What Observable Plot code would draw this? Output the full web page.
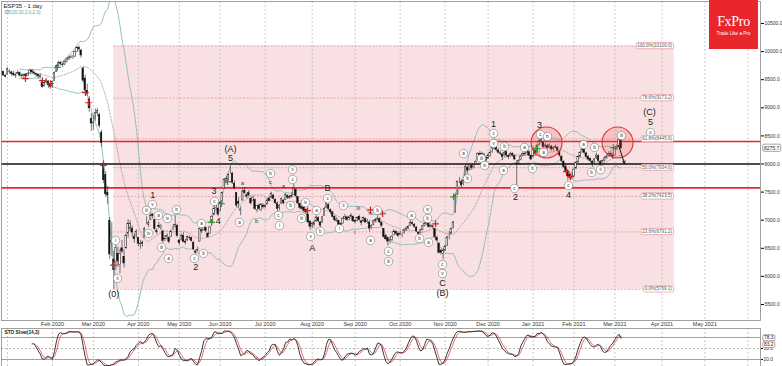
<!DOCTYPE html>
<html><head><meta charset="utf-8">
<script src="https://cdn.jsdelivr.net/npm/d3@7"></script>
<script src="https://cdn.jsdelivr.net/npm/@observablehq/plot@0.6"></script>
<style>
body{margin:0;background:#fff;}
#wrap{position:relative;width:782px;height:366px;overflow:hidden;font-family:"Liberation Sans",Arial,sans-serif;background:#fff;}
#main{position:absolute;left:0;top:0;}
#osc{position:absolute;left:0;top:328px;}
#logo{position:absolute;left:709px;top:0;width:49px;height:49px;background:#e8262c;color:#fff;text-align:center;}
#logo .b{font-family:"Liberation Serif","DejaVu Serif",serif;font-size:14px;position:absolute;left:0;right:0;top:14px;letter-spacing:-0.3px;}
#logo .s{font-size:4.6px;position:absolute;left:0;right:0;top:31px;}
</style></head><body>
<div id="wrap"><div id="main"></div><div id="osc"></div><div id="logo"><div class="b">FxPro</div><div class="s">Trade Like a Pro</div></div></div>
<script>
// ---------- calendar (trading days) ----------
const firstDay = "2019-12-27", lastDay = "2021-06-30";
const holidays = ["2020-01-01","2020-04-10","2020-04-13","2020-05-01","2020-12-25","2021-01-01","2021-04-02"];
const days = [];
for (let t = Date.parse(firstDay + "T00:00:00Z"); t <= Date.parse(lastDay + "T00:00:00Z"); t += 864e5) {
  const d = new Date(t), w = d.getUTCDay(), s = d.toISOString().slice(0, 10);
  if (w === 0 || w === 6 || holidays.includes(s)) continue;
  days.push(d);
}
const posOf = s => days.findIndex(d => d.toISOString().slice(0, 10) === s);
const BAR0 = posOf("2020-01-02");

// ---------- daily OHLC, ESP35 (Dec 27 2019 .. Mar 4 2021) ----------
const opens = [
9620,9640,9570,
9590,9640,9630,9610,9570,9600,9620,9570,9560,9590,9570,9610,9660,9630,9600,9590,9560,9450,9380,9450,9470,9420,
9380,9480,9640,9750,9800,9770,9770,9820,9860,9890,9900,9910,9990,10060,10020,9700,9520,9300,9150,8800,
8720,8800,8900,8870,8560,8000,7800,7480,6990,6600,6300,6250,6400,6200,6500,6350,6500,6760,6850,6850,6700,6720,
6680,6570,6600,6680,6950,6920,7000,7100,7000,6810,6900,6860,6800,6660,6700,6680,6700,6840,6880,6900,
6640,6650,6720,6620,6640,6690,6680,6600,6440,6450,6620,6820,6830,6860,6760,6760,6950,7100,7220,7200,
7160,7320,7560,7700,7720,7860,7830,7650,7480,7330,7160,7350,7520,7440,7480,7380,7350,7360,7180,7260,7180,7260,
7250,7280,7380,7400,7440,7360,7290,7210,7290,7350,7360,7430,7410,7430,7450,7540,7410,7290,7230,7220,7180,7100,6970,
6900,6920,6980,7040,6960,6950,7080,7220,7270,7180,7140,7060,6990,6990,6930,6940,7030,7050,7000,7060,7060,
6990,6990,7060,6980,6980,7020,6970,6960,6860,6920,6980,7010,7020,6950,6840,6720,6680,6630,6650,6740,6790,6760,
6740,6740,6770,6830,6850,6900,6950,6920,6870,6780,6770,6830,6900,6930,6940,6880,6890,6840,6690,6580,6450,6400,
6460,6540,6720,6760,6860,7150,7450,7700,7680,7640,7780,7930,7900,7960,7940,8000,8080,8180,8170,8160,8110,
8100,8140,8210,8270,8300,8240,8190,8170,8140,8210,8140,8140,8180,8140,8000,8020,8080,8150,8180,8200,8210,8140,
8130,8230,8200,8340,8400,8380,8310,8320,8290,8310,8260,8290,8290,8220,8130,8040,7950,7870,7800,7770,
7780,7920,8030,8130,8210,8250,8190,8120,8090,8040,8020,8100,8140,8040,8000,8060,8110,8140,8180,8150,
8150,8270,8320,8420];
const highs = [
9665,9650,9590,
9710,9680,9650,9650,9620,9660,9640,9600,9600,9610,9630,9690,9680,9650,9620,9600,9610,9460,9470,9530,9480,9460,
9480,9640,9760,9830,9820,9800,9840,9880,9910,9940,9930,10010,10090,10100,10040,9720,9580,9420,9200,8900,
8860,8980,8990,8900,8600,8060,7860,7600,7050,6960,6450,6560,6520,6480,6640,6480,6760,7010,6990,6900,6760,6830,
6700,6640,6630,6870,7060,6990,7130,7120,7010,6850,6960,6920,6820,6720,6760,6700,6820,6920,7080,6930,
6650,6760,6780,6660,6720,6720,6700,6620,6470,6520,6860,6850,6910,6880,6780,6890,7090,7250,7300,7220,
7330,7500,7740,7780,7830,7960,7850,7700,7490,7400,7240,7560,7580,7480,7530,7400,7430,7380,7260,7290,7290,7290,
7280,7390,7420,7500,7460,7380,7320,7280,7400,7370,7470,7450,7440,7480,7640,7560,7420,7300,7260,7240,7200,7110,6990,
6950,6990,7080,7060,6980,7070,7230,7350,7290,7200,7160,7080,7050,7000,6950,7040,7100,7070,7070,7120,7080,
7010,7060,7090,7000,7060,7040,7010,6980,6920,7000,7030,7080,7040,6970,6850,6740,6700,6690,6730,6830,6810,6790,
6800,6770,6840,6880,6900,7000,6980,6940,6890,6790,6840,6910,6960,6990,6960,6930,6910,6850,6720,6600,6480,6500,
6560,6720,6800,6860,6980,7480,7700,7760,7720,7720,7990,7960,8010,7990,8000,8070,8200,8220,8210,8190,8130,
8180,8230,8310,8400,8320,8270,8230,8190,8250,8230,8170,8210,8200,8160,8060,8080,8160,8210,8220,8280,8240,8160,
8290,8250,8350,8470,8460,8400,8370,8350,8360,8330,8310,8340,8310,8240,8150,8060,7990,7900,7840,7850,
7920,8040,8140,8220,8330,8270,8210,8150,8110,8060,8100,8190,8160,8060,8070,8130,8160,8220,8230,8200,
8290,8340,8510,8440];
const lows = [
9605,9560,9530,
9580,9600,9560,9560,9520,9590,9550,9520,9500,9540,9560,9600,9600,9580,9540,9520,9520,9340,9370,9430,9340,9330,
9350,9470,9630,9720,9740,9720,9750,9800,9840,9870,9860,9900,9980,10000,9880,9440,9280,9200,8920,8580,
8600,8760,8840,8640,8300,7650,7400,7280,6300,6350,5770,6100,6160,6050,6400,6150,6480,6680,6790,6700,6590,6680,
6530,6480,6520,6670,6920,6870,6990,7020,6820,6740,6850,6820,6590,6620,6650,6580,6690,6810,6860,6690,
6550,6630,6600,6560,6620,6640,6610,6460,6400,6430,6610,6760,6810,6780,6680,6750,6930,7080,7180,7060,
7140,7300,7550,7650,7700,7820,7640,7540,7220,7200,7080,7340,7450,7380,7410,7270,7330,7180,7130,7170,7150,7200,
7200,7270,7320,7380,7360,7280,7150,7170,7280,7270,7350,7370,7370,7390,7440,7400,7270,7190,7170,7130,7100,6940,6820,
6850,6890,6960,6950,6870,6940,7070,7200,7170,7100,7040,6970,6960,6900,6860,6930,7010,6980,6990,7040,6960,
6930,6970,6980,6900,6960,6940,6930,6790,6830,6900,6950,6990,6940,6880,6680,6640,6540,6580,6620,6720,6730,6690,
6720,6690,6750,6800,6830,6890,6900,6860,6780,6710,6750,6810,6880,6900,6860,6860,6840,6680,6600,6400,6380,6300,
6440,6530,6650,6740,6840,7120,7440,7650,7580,7610,7770,7820,7880,7890,7910,7980,8060,8130,8140,8080,8020,
8080,8120,8190,8250,8220,8180,8150,8060,8120,8120,8080,8120,8120,8060,7600,7980,8060,8130,8140,8180,8130,8060,
8110,8140,8180,8330,8370,8270,8280,8250,8270,8230,8230,8270,8210,8120,8020,7920,7840,7700,7720,7730,
7760,7900,8010,8110,8190,8170,8100,8050,8020,7940,8000,8080,8030,7940,7980,8040,8080,8120,8130,8080,
8140,8240,8310,8260];
const closes = [
9645,9574,9549,
9691,9646,9600,9580,9586,9615,9573,9562,9583,9570,9605,9658,9630,9610,9590,9560,9550,9366,9439,9489,9400,9367,
9460,9620,9740,9800,9780,9760,9820,9860,9890,9910,9900,9990,10060,10040,9930,9480,9310,9250,8990,8720,
8740,8910,8940,8680,8370,7710,7460,7440,6390,6630,6110,6500,6270,6400,6440,6230,6720,6940,6930,6780,6660,6790,
6580,6580,6580,6840,6950,6950,7070,7070,6840,6790,6880,6890,6630,6670,6720,6610,6800,6850,6920,6720,
6590,6720,6610,6600,6700,6680,6630,6480,6420,6470,6840,6800,6880,6810,6700,6870,7060,7200,7280,7100,
7310,7480,7720,7730,7800,7860,7660,7570,7260,7290,7190,7510,7480,7420,7440,7300,7390,7200,7250,7200,7280,7230,
7240,7350,7340,7470,7380,7300,7200,7250,7380,7300,7450,7400,7400,7420,7560,7430,7300,7220,7200,7160,7140,6960,6880,
6930,6960,7050,6980,6900,7050,7200,7300,7200,7140,7060,7000,7010,6920,6900,7020,7060,7000,7050,7080,6980,
6970,7040,7000,6950,7040,6960,6980,6850,6900,6980,7000,7030,6960,6900,6700,6660,6620,6640,6700,6800,6760,6720,
6760,6740,6820,6850,6880,6950,6930,6880,6800,6750,6820,6890,6930,6950,6880,6900,6880,6700,6640,6420,6420,6450,
6520,6690,6720,6840,6960,7430,7680,7700,7620,7700,7950,7880,7980,7930,7980,8040,8180,8160,8180,8100,8060,
8150,8200,8280,8320,8250,8200,8180,8120,8200,8150,8120,8180,8150,8080,7990,8050,8130,8180,8170,8230,8150,8080,
8250,8180,8320,8400,8420,8300,8330,8280,8330,8260,8280,8300,8240,8150,8050,7950,7880,7780,7760,7760,
7900,8020,8120,8200,8260,8200,8120,8080,8050,8000,8080,8150,8050,7990,8050,8100,8130,8180,8160,8130,
8260,8300,8430,8275.7];

// ---------- levels & annotations ----------
const priceTicks = [5500,6000,6500,7000,7500,8000,8500,9000,9500,10000,10500];
const redLevels = [8400, 7575];
const blackLevels = [8000];
const fibPct = ["100.0%","78.6%","61.8%","50.0%","38.2%","23.6%","0.0%"];
const fibValues = [10100.0, 9173.2, 8445.6, 7934.6, 7423.5, 6791.2, 5769.1];
const fibStart = "2020-03-16", fibEnd = "2021-04-12";
// bar numbers counted from Jan 2 2020 = 0
const bigLabels = [["(0)",52,5690],["1",71,7440],["2",92,6160],["3",101,7510],["4",103,6980],["5",109,8100],["(A)",109,8265],
 ["A",149,6510],["B",156.5,7565],["C",212.7,5875],["(B)",212.7,5695],["1",237.7,8705],["2",248.4,7405],["3",260.1,8685],
 ["4",274.3,7455],["(C)",313.9,8915],["5",314.4,8740]];
const circledLabels = [["i",52.8,6640],["ii",53.8,5965],["iii",68,7175],["iv",69,6765],["v",70.9,7280],["a",73.8,7085],
 ["iv",78.2,7030],["iii",75.3,6515],["a",78.7,6320],["b",82.6,7190],["c",91.4,6320],["b",95.8,6410],["a",94.9,6940],
 ["c",101.2,7335],["a",113.4,6960],["b",128.6,7830],["c",132.5,7085],["i",133,6905],["ii",139.4,7900],["c",139.4,7725],
 ["b",138.4,7260],["iv",145.7,7315],["iii",143.8,7030],["v",148.2,6710],["a",151.1,7175],["b",153,6800],["c",156.5,7385],
 ["i",162.3,6850],["ii",164.3,7260],["b",180.9,7175],["a",177.5,6640],["c",186.3,6445],["iii",186.3,6265],["a",197.6,7085],
 ["b",201.5,6675],["iv",205.4,7190],["b",205.4,7030],["a",205.9,6605],["c",212.7,6210],["v",212.7,6050],["a",223,8185],
 ["b",224.9,7740],["iii",231.8,8100],["iv",233.3,7975],["c",237.7,8545],["v",237.7,8365],["b",243,8310],["a",242.5,7885],
 ["c",247.9,7565],["a",252.8,8295],["b",256.7,7920],["c",260.6,8525],["b",264,8490],["a",262.1,8205],["c",274.3,7615],
 ["a",281.7,8345],["b",287,8295],["b",285.6,7850],["ii",290,7900],["iii",300.2,8505],["c",314.4,8560]];
const plainLabels = [["a",114.9,7655],["b",121.8,6975],["c",128.6,7670],["a",135,7600],["iii",171.6,7210],["iv",177.5,7120],["i",169.7,6780]];
const sellSignals = [[8.8,9520],[17.1,9485],[21,9430],[38.1,9270],[39.6,9090],[46.9,7975],[51.8,6200],[146.7,7170],[177.5,7185],[183.4,7115],[209.3,6935],[273.3,7865],[275.3,7775]];
const buySignals = [[24.4,9720],[99.8,6960],[104.6,7295],[107.6,7685],[218.1,7415],[258.7,8275],[296.3,8290]];
const highlightCircles = [[263.6,8383],[298.3,8383]];
const arrowSeg = [[298.8,8330,301.7,8010]];

// ---------- derived ----------
const bars = closes.map((c, k) => ({pos: k, o: opens[k], h: Math.max(highs[k], opens[k], c), l: Math.min(lows[k], opens[k], c), c}));
const bb = [];
for (let k = 9; k < closes.length; k++) {
  const w = closes.slice(Math.max(0, k - 19), k + 1), m = d3.mean(w);
  const sd = Math.sqrt(d3.mean(w, v => (v - m) ** 2));
  bb.push({pos: k, m, u: m + 2 * sd, lo: m - 2 * sd});
}
const fastK = closes.map((c, k) => {
  if (k < 13) return null;
  const hh = d3.max(highs.slice(k - 13, k + 1)), ll = d3.min(lows.slice(k - 13, k + 1));
  return 100 * (c - ll) / (hh - ll);
});
const slowK = fastK.map((v, k) => k < 15 ? null : d3.mean(fastK.slice(k - 2, k + 1)));
const slowD = slowK.map((v, k) => k < 17 ? null : d3.mean(slowK.slice(k - 2, k + 1)));
const stoch = closes.map((c, k) => ({pos: k, k: slowK[k], d: slowD[k]}));

const monthStarts = days.map((d, k) => k).filter(k => k > 0 && days[k].getUTCMonth() !== days[k - 1].getUTCMonth());
const labeledMonths = monthStarts.slice(1, -1);
const fmt = d3.utcFormat("%b %Y");
const fibX1 = posOf(fibStart), fibX2 = posOf(fibEnd);
const xDom = [0.07, 371.2];
const FONT = "Liberation Sans, Arial, sans-serif";
const X = i => i + BAR0;

// ---------- main price panel ----------
const main = Plot.plot({
  width: 782, height: 328, marginLeft: 1, marginRight: 22, marginTop: 1, marginBottom: 8,
  style: {fontFamily: FONT, background: "white"},
  x: {domain: xDom, axis: null, label: null},
  y: {domain: [5215.3, 10891.5], axis: null, label: null},
  marks: [
    Plot.rect([0], {x1: () => fibX1, x2: () => fibX2, y1: () => fibValues[6], y2: () => fibValues[0], fill: "#f9e1e3"}),
    Plot.ruleX(monthStarts, {stroke: "#b4b4b4", strokeDasharray: "2,2", strokeWidth: 0.7}),
    Plot.ruleY(fibValues, {x1: () => fibX1, x2: () => fibX2, stroke: "#e58a8f", strokeDasharray: "2,1.5", strokeWidth: 0.7}),
    Plot.line(bb, {x: "pos", y: "u", stroke: "#8db8bb", strokeWidth: 0.9, clip: true}),
    Plot.line(bb, {x: "pos", y: "lo", stroke: "#8db8bb", strokeWidth: 0.9, clip: true}),
    Plot.line(bb, {x: "pos", y: "m", stroke: "#9a9a9a", strokeWidth: 0.7, strokeDasharray: "2,1.5", clip: true}),
    Plot.ruleY(redLevels, {stroke: "#e8262c", strokeWidth: 1.6}),
    Plot.ruleY(blackLevels, {stroke: "#111", strokeWidth: 1.6}),
    Plot.ruleX(bars, {x: "pos", y1: "l", y2: "h", stroke: "#222", strokeWidth: 0.6, clip: true}),
    Plot.rect(bars, {x1: d => d.pos - 0.36, x2: d => d.pos + 0.36, y1: "o", y2: "c", fill: d => d.c >= d.o ? "#ffffff" : "#111111", stroke: "#111", strokeWidth: 0.45, clip: true}),
    Plot.dot(highlightCircles, {x: d => X(d[0]), y: d => d[1], r: 15.5, fill: "#e84a4a", fillOpacity: 0.2, stroke: "#e53030", strokeWidth: 1.1}),
    Plot.dot(sellSignals, {x: d => X(d[0]), y: d => d[1], symbol: "plus", r: 2.3, stroke: "#d42020", strokeWidth: 1.2}),
    Plot.dot(buySignals, {x: d => X(d[0]), y: d => d[1], symbol: "plus", r: 2.3, stroke: "#23a023", strokeWidth: 1.2}),
    Plot.dot(circledLabels, {x: d => X(d[1]), y: d => d[2], r: 4.2, fill: "white", stroke: "#666", strokeWidth: 0.5}),
    Plot.text(circledLabels, {x: d => X(d[1]), y: d => d[2], text: d => d[0], fontSize: 4.6, fill: "#333"}),
    Plot.text(plainLabels, {x: d => X(d[1]), y: d => d[2], text: d => d[0], fontSize: 5.5, fill: "#333"}),
    Plot.text(bigLabels, {x: d => X(d[1]), y: d => d[2], text: d => d[0], fontSize: 9, fill: "#222"}),
    Plot.arrow(arrowSeg, {x1: d => X(d[0]), y1: d => d[1], x2: d => X(d[2]), y2: d => d[3], stroke: "#111", strokeWidth: 1, headLength: 4}),
    Plot.frame({stroke: "#8a8a8a", strokeWidth: 0.8}),
    Plot.axisX({ticks: labeledMonths, tickFormat: k => fmt(days[k]), tickSize: 0, tickPadding: 1.5, fontSize: 5.5, fill: "#333", label: null}),
    Plot.axisY({anchor: "right", ticks: priceTicks, tickFormat: d3.format(".1f"), tickSize: 3, tickPadding: 1, fontSize: 5, fill: "#333", label: null}),
    Plot.text(["ESP35 - 1 day"], {frameAnchor: "top-left", dx: 2, dy: 2, fontSize: 6, fill: "#222", textAnchor: "start", lineAnchor: "top"}),
    Plot.text(["BB(20,20,2.0,2.0)"], {frameAnchor: "top-left", dx: 3, dy: 9.5, fontSize: 4.6, fill: "#6aa5a8", textAnchor: "start", lineAnchor: "top"})
  ]
});
document.getElementById("main").append(main);

// boxed labels drawn with the plot's own scales
const sx = main.scale("x"), sy = main.scale("y");
const svg = d3.select(main);
const gl = svg.append("g").attr("font-family", FONT);
function boxLabel(g, x, y, txt, anchor, size, stroke, fill) {
  const t = g.append("text").attr("x", x).attr("y", y).attr("dy", "0.35em").attr("text-anchor", anchor)
    .attr("font-size", size).attr("fill", fill).text(txt);
  const b = t.node().getBBox();
  g.insert("rect", () => t.node()).attr("x", b.x - 1.2).attr("y", b.y - 0.6).attr("width", b.width + 2.4).attr("height", b.height + 1.2)
    .attr("rx", 1.5).attr("fill", "white").attr("stroke", stroke).attr("stroke-width", 0.6);
}
fibPct.forEach((p, j) => boxLabel(gl, sx.apply(fibX2) - 1.8, sy.apply(fibValues[j]), `${p}(${fibValues[j].toFixed(1)})`, "end", 4.5, "#e08a90", "#555"));
const lastClose = closes[closes.length - 1];
boxLabel(gl, 764, sy.apply(lastClose), lastClose.toFixed(1), "start", 5, "#666", "#222");

// ---------- stochastic panel ----------
const osc = Plot.plot({
  width: 782, height: 38, marginLeft: 1, marginRight: 22, marginTop: 0, marginBottom: 0,
  style: {fontFamily: FONT, background: "white"},
  x: {domain: xDom, axis: null, label: null},
  y: {domain: [0, 100], range: [38.3, 1.7], axis: null, label: null},
  marks: [
    Plot.ruleX(monthStarts, {stroke: "#b4b4b4", strokeDasharray: "2,2", strokeWidth: 0.7}),
    Plot.ruleY([80, 20], {stroke: "#888", strokeWidth: 0.8}),
    Plot.ruleY([50], {stroke: "#999", strokeDasharray: "2,2", strokeWidth: 0.7}),
    Plot.line(stoch, {x: "pos", y: "d", stroke: "#e0484b", strokeWidth: 0.8}),
    Plot.line(stoch, {x: "pos", y: "k", stroke: "#222", strokeWidth: 0.9}),
    Plot.frame({stroke: "#8a8a8a", strokeWidth: 0.8}),
    Plot.axisY({anchor: "right", ticks: [20, 50], tickFormat: d3.format(".1f"), tickSize: 2, tickPadding: 1, fontSize: 4.8, fill: "#333", label: null}),
    Plot.text(["STO Slow(14,3)"], {frameAnchor: "top-left", dx: 3, dy: 2.5, fontSize: 4.8, fontWeight: "bold", fill: "#222", textAnchor: "start", lineAnchor: "top"})
  ]
});
document.getElementById("osc").append(osc);
const oy = osc.scale("y");
const go = d3.select(osc).append("g").attr("font-family", FONT);
const lastK = slowK[slowK.length - 1], lastD = slowD[slowD.length - 1];
const yK = oy.apply(lastK);
let yD = oy.apply(lastD);
if (Math.abs(yD - yK) < 6.5) yD = yK + 6.5;
boxLabel(go, 764, yK, lastK.toFixed(1), "start", 4.8, "#666", "#222");
boxLabel(go, 764, yD, lastD.toFixed(1), "start", 4.8, "#e0484b", "#222");
</script></body></html>
